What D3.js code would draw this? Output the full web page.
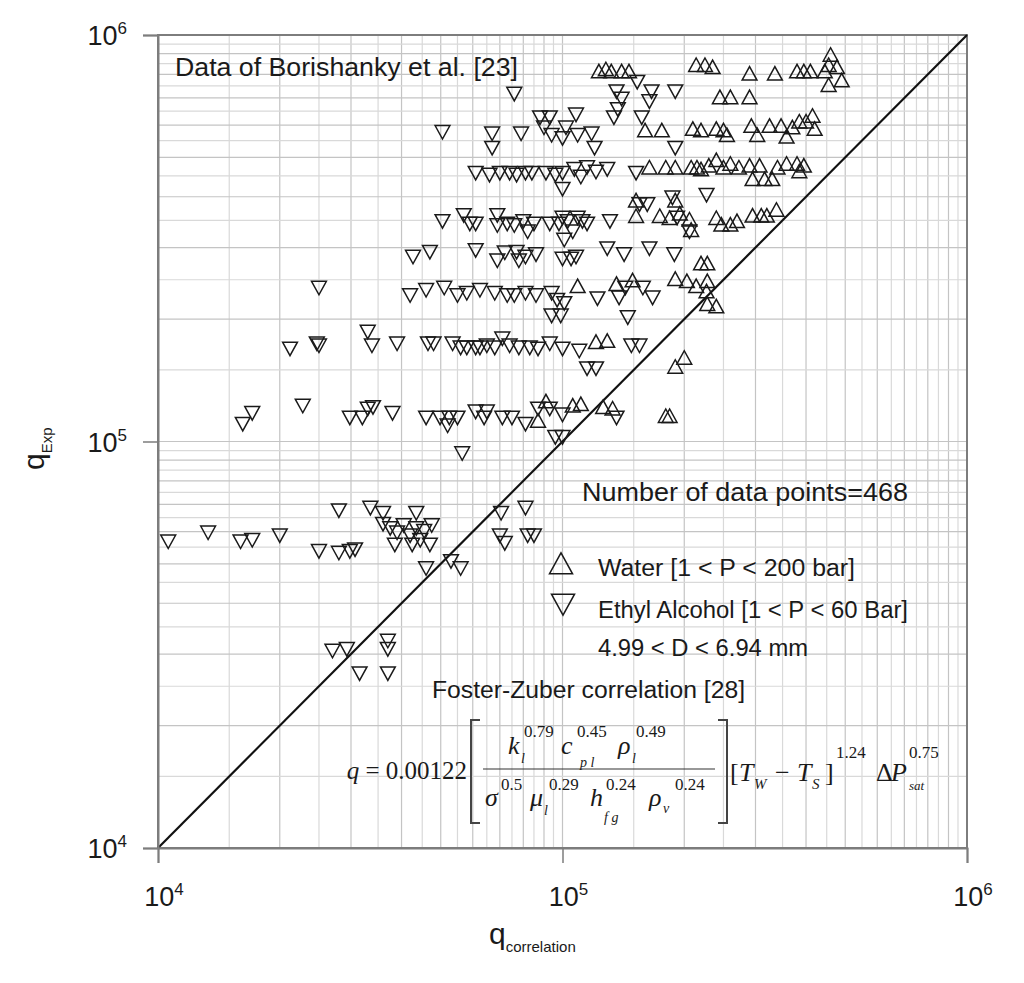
<!DOCTYPE html>
<html><head><meta charset="utf-8">
<script src="https://cdn.jsdelivr.net/npm/d3@7"></script>
<style>body{margin:0;background:#fff} svg{display:block}</style>
</head><body>
<svg id="chart" width="1024" height="983"></svg>
<script>
// ---------- data ----------
const tickExponents = [4, 5, 6];
const gridMultipliers = [1, 1.5, 2, 2.5, 3, 3.5, 4, 4.5, 5, 5.5, 6, 6.5, 7, 7.5, 8, 8.5, 9, 9.5];
const domainMin = 1e4, domainMax = 1e6;

// Water [1 < P < 200 bar]  : [q_correlation, q_Exp]
const water = [
[1.23e5,8.1e5],[1.28e5,8.2e5],[1.32e5,8.1e5],[1.40e5,8.1e5],[1.46e5,8.1e5],
[2.14e5,8.4e5],[2.25e5,8.4e5],[2.35e5,8.3e5],
[2.90e5,8.0e5],[3.35e5,8.0e5],[3.80e5,8.1e5],[3.95e5,8.1e5],[4.10e5,8.1e5],
[4.45e5,8.1e5],[4.55e5,8.4e5],[4.60e5,8.9e5],[4.77e5,8.3e5],[4.90e5,7.7e5],[4.55e5,7.5e5],
[2.45e5,7.0e5],[2.60e5,7.0e5],[2.90e5,7.0e5],
[1.60e5,5.8e5],[1.76e5,5.8e5],[2.10e5,5.85e5],[2.20e5,5.8e5],[2.40e5,5.85e5],[2.50e5,5.8e5],[2.55e5,5.65e5],
[2.93e5,5.95e5],[3.03e5,5.65e5],[3.25e5,5.95e5],[3.47e5,5.95e5],[3.58e5,5.6e5],[3.70e5,5.9e5],
[3.85e5,6.1e5],[4.00e5,6.1e5],[4.15e5,6.3e5],[4.20e5,5.85e5],
[1.64e5,4.7e5],[1.80e5,4.7e5],[1.90e5,4.7e5],[2.08e5,4.7e5],[2.15e5,4.7e5],[2.20e5,4.65e5],[2.30e5,4.75e5],
[2.40e5,4.9e5],[2.50e5,4.7e5],[2.60e5,4.8e5],[2.73e5,4.7e5],[2.90e5,4.75e5],[3.07e5,4.75e5],
[2.95e5,4.4e5],[3.16e5,4.4e5],[3.30e5,4.4e5],[3.40e5,4.7e5],[3.58e5,4.8e5],[3.80e5,4.8e5],[3.95e5,4.75e5],[3.85e5,4.6e5],
[1.52e5,3.9e5],[1.52e5,3.57e5],[1.74e5,3.57e5],[1.84e5,3.53e5],[1.90e5,3.9e5],[1.95e5,3.62e5],[2.06e5,3.5e5],[2.08e5,3.3e5],
[2.40e5,3.53e5],[2.47e5,3.4e5],[2.60e5,3.4e5],[2.70e5,3.47e5],[2.95e5,3.58e5],[3.10e5,3.58e5],[3.20e5,3.58e5],[3.38e5,3.7e5],
[2.20e5,2.73e5],[2.28e5,2.73e5],[1.90e5,2.5e5],[2.03e5,2.47e5],[2.14e5,2.4e5],[2.28e5,2.47e5],[2.27e5,2.33e5],
[2.28e5,2.17e5],[2.40e5,2.14e5],[1.09e5,2.4e5],[1.36e5,2.43e5],[1.49e5,2.48e5],
[1.21e5,1.75e5],[1.29e5,1.76e5],[2.00e5,1.6e5],[1.90e5,1.52e5],
[8.7e4,1.12e5],[9.1e4,1.25e5],[1.06e5,1.22e5],[1.11e5,1.23e5],[1.26e5,1.21e5],[1.33e5,1.2e5],[1.80e5,1.15e5],[1.84e5,1.15e5]
];

// Ethyl Alcohol [1 < P < 60 Bar] : [q_correlation, q_Exp]
const ethanol = [
[1.53e5,7.7e5],[7.6e4,7.2e5],[1.36e5,7.3e5],[1.40e5,7.0e5],[1.66e5,7.3e5],[1.64e5,6.9e5],[1.90e5,7.3e5],
[1.37e5,6.6e5],[1.34e5,6.3e5],[1.57e5,6.3e5],[8.8e4,6.3e5],[9.3e4,6.3e5],[1.08e5,6.4e5],
[6.7e4,5.75e5],[6.7e4,5.3e5],[7.9e4,5.75e5],[9.0e4,5.95e5],[9.4e4,5.7e5],[1.02e5,5.95e5],[1.00e5,5.6e5],
[1.09e5,5.7e5],[1.18e5,5.75e5],[1.20e5,5.3e5],[1.90e5,5.3e5],[5.05e4,5.8e5],
[6.1e4,4.6e5],[6.6e4,4.55e5],[7.0e4,4.6e5],[7.4e4,4.6e5],[7.7e4,4.55e5],[8.1e4,4.6e5],[8.4e4,4.6e5],
[9.1e4,4.6e5],[9.6e4,4.55e5],[1.00e5,4.6e5],[1.07e5,4.7e5],[1.11e5,4.5e5],[1.15e5,4.75e5],[1.21e5,4.63e5],
[1.29e5,4.7e5],[1.52e5,4.6e5],[2.27e5,4.06e5],[1.00e5,4.2e5],
[5.05e4,3.5e5],[5.7e4,3.62e5],[5.9e4,3.45e5],[6.1e4,3.45e5],[6.9e4,3.62e5],[6.9e4,3.42e5],[7.3e4,3.45e5],
[7.6e4,3.42e5],[8.0e4,3.5e5],[8.2e4,3.3e5],[8.5e4,3.45e5],[9.3e4,3.45e5],[9.8e4,3.45e5],[1.03e5,3.5e5],
[1.06e5,3.3e5],[1.12e5,3.5e5],[1.15e5,3.45e5],[1.31e5,3.5e5],[1.55e5,3.85e5],[1.62e5,3.85e5],[1.87e5,4.0e5],
[1.92e5,3.57e5],[2.06e5,3.3e5],[1.00e5,3.57e5],[1.09e5,3.57e5],
[4.27e4,2.86e5],[4.7e4,2.94e5],[6.1e4,2.97e5],[6.9e4,2.8e5],[7.2e4,2.93e5],[7.7e4,2.94e5],[7.8e4,2.8e5],
[8.1e4,2.86e5],[8.6e4,2.9e5],[1.01e5,3.15e5],[1.00e5,2.83e5],[1.05e5,2.83e5],[1.08e5,2.86e5],[1.29e5,3.0e5],
[1.42e5,2.9e5],[1.64e5,3.0e5],[1.89e5,2.9e5],
[2.5e4,2.4e5],[4.2e4,2.3e5],[4.6e4,2.37e5],[5.1e4,2.4e5],[5.5e4,2.3e5],[5.8e4,2.33e5],[6.25e4,2.37e5],
[6.8e4,2.33e5],[7.3e4,2.3e5],[7.6e4,2.3e5],[8.1e4,2.33e5],[8.6e4,2.3e5],[9.4e4,2.33e5],[9.7e4,2.24e5],
[1.01e5,2.2e5],[1.22e5,2.26e5],[1.38e5,2.27e5],[1.43e5,2.4e5],[9.4e4,2.05e5],[9.9e4,2.05e5],[1.45e5,2.03e5],
[1.58e5,2.4e5],[1.67e5,2.27e5],
[2.12e4,1.7e5],[2.47e4,1.75e5],[2.5e4,1.73e5],[3.3e4,1.87e5],[3.38e4,1.73e5],[3.9e4,1.75e5],[4.65e4,1.75e5],
[4.8e4,1.75e5],[5.35e4,1.75e5],[5.6e4,1.71e5],[5.8e4,1.71e5],[6.1e4,1.71e5],[6.25e4,1.71e5],[6.5e4,1.73e5],
[6.8e4,1.71e5],[7.1e4,1.8e5],[7.4e4,1.73e5],[7.8e4,1.71e5],[8.3e4,1.71e5],[8.7e4,1.7e5],[9.3e4,1.75e5],
[1.00e5,1.7e5],[1.10e5,1.68e5],[1.48e5,1.73e5],[1.55e5,1.73e5],[1.15e5,1.52e5],[1.21e5,1.52e5],
[1.62e4,1.11e5],[1.71e4,1.18e5],[2.28e4,1.23e5],[2.98e4,1.15e5],[3.2e4,1.15e5],[3.3e4,1.21e5],[3.4e4,1.22e5],
[3.8e4,1.18e5],[4.6e4,1.15e5],[4.98e4,1.15e5],[5.2e4,1.1e5],[5.25e4,1.15e5],[5.5e4,1.15e5],[6.1e4,1.19e5],
[6.5e4,1.19e5],[6.4e4,1.15e5],[7.1e4,1.15e5],[7.5e4,1.15e5],[8.1e4,1.11e5],[8.7e4,1.21e5],[9.3e4,1.21e5],
[1.00e5,1.17e5],[1.36e5,1.15e5],[9.6e4,1.03e5],[1.00e5,1.03e5],[5.65e4,9.4e4],
[1.06e4,5.7e4],[1.33e4,6.0e4],[1.6e4,5.7e4],[1.71e4,5.75e4],[2.0e4,5.9e4],[2.5e4,5.4e4],[2.8e4,5.35e4],
[2.98e4,5.4e4],[3.07e4,5.45e4],[2.8e4,6.8e4],[3.35e4,6.9e4],[3.6e4,6.7e4],[3.6e4,6.3e4],[3.75e4,6.15e4],
[3.9e4,6.0e4],[4.05e4,6.25e4],[4.2e4,5.9e4],[4.35e4,6.15e4],[4.55e4,6.05e4],[4.75e4,6.25e4],[3.85e4,5.6e4],
[4.25e4,5.6e4],[4.7e4,5.6e4],[4.45e4,5.75e4],[4.35e4,6.7e4],[7.0e4,5.9e4],[7.2e4,5.65e4],[8.2e4,5.9e4],
[8.5e4,5.9e4],[7.05e4,6.7e4],[8.1e4,6.9e4],[4.6e4,4.9e4],[5.3e4,5.1e4],[5.6e4,4.9e4],
[2.7e4,3.07e4],[2.93e4,3.1e4],[3.7e4,3.25e4],[3.7e4,3.1e4],[3.15e4,2.7e4],[3.7e4,2.7e4]
];

const legendItems = ["Water [1 < P < 200 bar]", "Ethyl Alcohol [1 < P < 60 Bar]"];

// ---------- drawing ----------
const svg = d3.select("#chart");
const L = 158, R = 967, T = 35, B = 848;
const x = d3.scaleLog().domain([domainMin, domainMax]).range([L, R]);
const y = d3.scaleLog().domain([domainMin, domainMax]).range([B, T]);
const sans = "'Liberation Sans', Arial, Helvetica, sans-serif";
const serif = "'Liberation Serif', 'Times New Roman', serif";

svg.append("rect").attr("width", 1024).attr("height", 983).attr("fill", "#fff");

const gridVals = [];
[4, 5].forEach(e => gridMultipliers.forEach(m => {
  const v = m * Math.pow(10, e);
  if (v > domainMin) gridVals.push({v, major: Number.isInteger(m)});
}));

const grid = svg.append("g");
grid.selectAll("line.gx").data(gridVals).join("line")
  .attr("x1", d => x(d.v)).attr("x2", d => x(d.v)).attr("y1", T).attr("y2", B)
  .attr("stroke", d => d.major ? "#c4c4c4" : "#d9d9d9").attr("stroke-width", 1.2);
grid.selectAll("line.gy").data(gridVals).join("line")
  .attr("y1", d => y(d.v)).attr("y2", d => y(d.v)).attr("x1", L).attr("x2", R)
  .attr("stroke", d => d.major ? "#c4c4c4" : "#d9d9d9").attr("stroke-width", 1.2);

svg.append("rect").attr("x", L).attr("y", T).attr("width", R - L).attr("height", B - T)
  .attr("fill", "none").attr("stroke", "#7d7d7d").attr("stroke-width", 2);

svg.append("line").attr("x1", x(domainMin)).attr("y1", y(domainMin))
  .attr("x2", x(domainMax)).attr("y2", y(domainMax))
  .attr("stroke", "#111").attr("stroke-width", 2.2);

const upPath = s => `M${-0.55*s},${0.42*s}L0,${-0.58*s}L${0.55*s},${0.42*s}Z`;
const downPath = s => `M${-0.55*s},${-0.42*s}L0,${0.58*s}L${0.55*s},${-0.42*s}Z`;
const mk = 13.5;
svg.append("g").selectAll("path").data(ethanol).join("path")
  .attr("d", downPath(mk)).attr("transform", d => `translate(${x(d[0])},${y(d[1])})`)
  .attr("fill", "none").attr("stroke", "#1a1a1a").attr("stroke-width", 1.5);
svg.append("g").selectAll("path").data(water).join("path")
  .attr("d", upPath(mk)).attr("transform", d => `translate(${x(d[0])},${y(d[1])})`)
  .attr("fill", "none").attr("stroke", "#1a1a1a").attr("stroke-width", 1.5);

const ax = svg.append("g").attr("transform", `translate(0,${B})`)
  .call(d3.axisBottom(x).tickValues(tickExponents.map(e => Math.pow(10, e))).tickSize(15).tickFormat(""));
const ay = svg.append("g").attr("transform", `translate(${L},0)`)
  .call(d3.axisLeft(y).tickValues(tickExponents.map(e => Math.pow(10, e))).tickSize(15).tickFormat(""));
[ax, ay].forEach(a => {
  a.select(".domain").attr("stroke", "#7d7d7d").attr("stroke-width", 2);
  a.selectAll(".tick line").attr("stroke", "#7d7d7d").attr("stroke-width", 1.5);
});

const xl = svg.append("g").selectAll("text").data(tickExponents).join("text")
  .attr("x", e => x(Math.pow(10, e)) + 6).attr("y", 906)
  .attr("text-anchor", "middle").attr("font-family", sans).attr("font-size", 27).attr("fill", "#1a1a1a");
xl.append("tspan").text("10");
xl.append("tspan").attr("dy", -11).attr("font-size", 17).text(e => e);

const yl = svg.append("g").selectAll("text").data(tickExponents).join("text")
  .attr("x", 127).attr("y", e => y(Math.pow(10, e)) + 10)
  .attr("text-anchor", "end").attr("font-family", sans).attr("font-size", 27).attr("fill", "#1a1a1a");
yl.append("tspan").text("10");
yl.append("tspan").attr("dy", -11).attr("font-size", 17).text(e => e);

const xt = svg.append("text").attr("x", 489).attr("y", 944).attr("font-family", sans).attr("fill", "#1a1a1a");
xt.append("tspan").attr("font-size", 30).text("q");
xt.append("tspan").attr("font-size", 15).attr("dy", 8).text("correlation");

const yt = svg.append("text").attr("transform", "translate(44,470) rotate(-90)").attr("font-family", sans).attr("fill", "#1a1a1a");
yt.append("tspan").attr("font-size", 30).text("q");
yt.append("tspan").attr("font-size", 15).attr("dy", 8).text("Exp");

function label(txt, xx, yy, fs, len) {
  svg.append("text").attr("x", xx).attr("y", yy).attr("font-family", sans)
    .attr("font-size", fs).attr("fill", "#1a1a1a")
    .attr("textLength", len).attr("lengthAdjust", "spacingAndGlyphs").text(txt);
}
label("Data of Borishanky et al. [23]", 175, 76, 25, 343);
label("Number of data points=468", 582, 501, 25, 326);
label(legendItems[0], 598, 576, 23, 257);
label(legendItems[1], 598, 618, 23, 310);
label("4.99 < D < 6.94 mm", 598, 656, 23, 210);
label("Foster-Zuber correlation [28]", 432, 698, 23, 313);

svg.append("path").attr("d", upPath(21)).attr("transform", "translate(561,565)")
  .attr("fill", "none").attr("stroke", "#1a1a1a").attr("stroke-width", 1.5);
svg.append("path").attr("d", downPath(21)).attr("transform", "translate(563,603)")
  .attr("fill", "none").attr("stroke", "#1a1a1a").attr("stroke-width", 1.5);

// formula
const f = svg.append("g").attr("font-family", serif).attr("fill", "#1a1a1a");
function ft(txt, xx, yy, fs, ital) {
  f.append("text").attr("x", xx).attr("y", yy).attr("font-size", fs)
    .attr("font-style", ital ? "italic" : "normal").text(txt);
}
const qeq = f.append("text").attr("x", 467).attr("y", 779).attr("font-size", 25).attr("text-anchor", "end");
qeq.append("tspan").attr("font-style", "italic").text("q");
qeq.append("tspan").text(" = 0.00122");
f.append("path").attr("d", "M480,720H471V823H480").attr("fill", "none").attr("stroke", "#444").attr("stroke-width", 2);
f.append("path").attr("d", "M718,720H727V823H718").attr("fill", "none").attr("stroke", "#444").attr("stroke-width", 2);
f.append("line").attr("x1", 483).attr("x2", 715).attr("y1", 769).attr("y2", 769).attr("stroke", "#333").attr("stroke-width", 1.2);
// numerator
ft("k", 508, 754, 26, true); ft("0.79", 524, 737, 17); ft("l", 521, 763, 14, true);
ft("c", 561, 754, 26, true); ft("0.45", 577, 737, 17); ft("p l", 580, 767, 14, true);
ft("ρ", 618, 754, 26, true); ft("0.49", 636, 737, 17); ft("l", 632, 763, 14, true);
// denominator
ft("σ", 485, 806, 26, true); ft("0.5", 501, 790, 17);
ft("μ", 530, 806, 26, true); ft("l", 544, 815, 14, true); ft("0.29", 549, 790, 17);
ft("h", 590, 806, 26, true); ft("f g", 604, 822, 14, true); ft("0.24", 606, 790, 17);
ft("ρ", 649, 806, 26, true); ft("v", 663, 813, 14, true); ft("0.24", 675, 790, 17);
// [Tw - Ts]^1.24 ΔP_sat^0.75
ft("[", 730, 781, 26); ft("T", 739, 781, 26, true); ft("W", 754, 789, 15, true);
ft("−", 775, 781, 26); ft("T", 797, 781, 26, true); ft("S", 812, 789, 15, true);
ft("]", 825, 781, 26); ft("1.24", 836, 758, 17);
ft("Δ", 876, 781, 26); ft("P", 891, 781, 26, true); ft("0.75", 909, 758, 17); ft("sat", 909, 790, 13, true);
</script>
</body></html>
